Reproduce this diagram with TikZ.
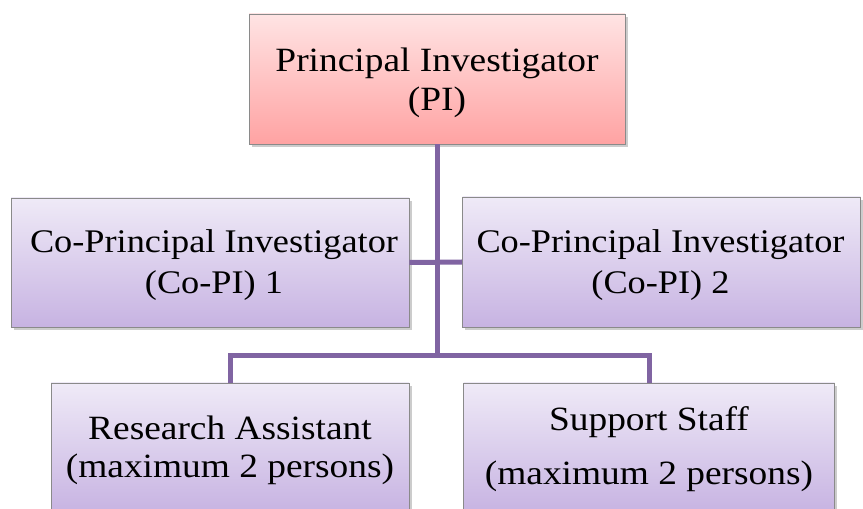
\documentclass[tikz,border=0pt]{standalone}
\usepackage{fontspec}
\setmainfont{Liberation Serif}[FakeStretch=1.1]
\usetikzlibrary{shadows}
\definecolor{conncol}{HTML}{8064A2}
\definecolor{boxedge}{HTML}{8A8A8A}
\definecolor{pinktop}{HTML}{FFE4E4}
\definecolor{pinkbot}{HTML}{FFA3A3}
\definecolor{lavtop}{HTML}{EFEAF7}
\definecolor{lavbot}{HTML}{C7B3E2}
\setlength{\tabcolsep}{0pt}
\tikzset{
  orgbox/.style={rectangle, draw=boxedge, line width=0.9pt, inner sep=0pt,
    drop shadow={shadow xshift=2.5pt, shadow yshift=-3pt, fill=black, opacity=0.2}},
  pibox/.style={orgbox, top color=pinktop, bottom color=pinkbot},
  lavbox/.style={orgbox, top color=lavtop, bottom color=lavbot},
  lbl/.style n args={2}{inner sep=0pt, anchor=base, font=\fontsize{#1}{#2}\selectfont},
  conn/.style={draw=conncol, line width=5pt}
}
\newcommand{\twolines}[2]{\begin{tabular}[t]{c}#1\\#2\end{tabular}}
\begin{document}
\begin{tikzpicture}[x=1pt,y=1pt]
\useasboundingbox (0,0) rectangle (863,509);
% boxes
\node[pibox, minimum width=376pt, minimum height=130pt] (PI) at (437,430) {};
\node[lavbox, minimum width=398pt, minimum height=129pt] (C1) at (210,246.5) {};
\node[lavbox, minimum width=398pt, minimum height=130pt] (C2) at (661.5,247) {};
\node[lavbox, minimum width=358pt, minimum height=130pt] (RA) at (230,61) {};
\node[lavbox, minimum width=371pt, minimum height=130pt] (SS) at (649,61) {};
% texts
\node[lbl={34}{39}] (PIt) at (PI.center |- 0,437.3) {\twolines{Principal Investigator}{(PI)}};
\node[lbl={33}{41.7}] (C1t) at ([xshift=4pt]C1.center |- 0,256.7) {\twolines{Co-Principal Investigator}{(Co-PI) 1}};
\node[lbl={33}{41.7}] (C2t) at ([xshift=-1pt]C2.center |- 0,256.7) {\twolines{Co-Principal Investigator}{(Co-PI) 2}};
\node[lbl={34}{38.4}] (RAt) at ([xshift=0pt]RA.center |- 0,69.7) {\twolines{Research Assistant}{(maximum 2 persons)}};
\node[lbl={34}{54}] (SSt) at (SS.center |- 0,78) {\twolines{Support Staff}{(maximum 2 persons)}};
% connectors
\draw[conn] (PI.south) -- ++(0,-211) coordinate (J);
\draw[conn] (C1.east) -- (C2.west);
\draw[conn] (RA.north) |- (J) -| (SS.north);
\end{tikzpicture}
\end{document}
